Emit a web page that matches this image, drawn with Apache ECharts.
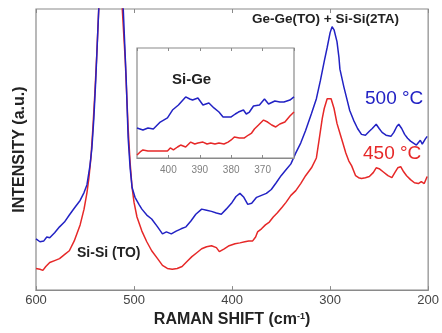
<!DOCTYPE html>
<html>
<head>
<meta charset="utf-8">
<script src="https://cdn.jsdelivr.net/npm/echarts@6/dist/echarts.min.js"></script>
<style>html,body{margin:0;padding:0;background:#fff}#c{width:442px;height:333px}</style>
</head>
<body>
<div id="c"></div>
<script>
// Main spectrum, 500 °C (blue)
const blueShift = [600,596,592,589,586,581,576,571,566,561,555,551,548,545,543,541,539,536,534,529,525,521,516,511,508,506,504,502,499,495,492,487,482,476,471,467,462,457,452,447,442,437,431,426,421,416,411,406,400,396,392,388,384,380,375,370,365,360,355,350,345,340,335,330,325,319,314,310,306,303,300,298,296,293,291,290,286,283,280,276,272,268,264,260,257,253,250,247,243,238,235,232,230,227,224,221,218,215,212,210,208,206,203,201];
const blueInt = [18.2,17.2,17.5,18.9,18.6,20.4,22.5,24.2,26.7,29.1,31.9,34.7,37.5,44.2,50.5,61.1,75.1,100,120,150,160,150,125,100,75,54,43.5,36.5,33,30.5,28.8,26.7,25.3,22.5,20,20.7,20,21,21.8,22.5,24.6,27,28.8,28.4,28,27.4,27,28.8,31.2,33.3,34.4,33,30.5,30.9,33,33.7,34.4,35.8,38.2,40.7,42.8,44.9,48.8,52.3,56.8,62.8,68.1,74.4,81.4,86.3,91.6,93.7,92.6,88.4,82.8,78.6,72.3,68.1,63.9,60.4,57.5,55.4,55.1,56.5,57.5,59,57.5,56.1,55.1,54.7,56.1,58.2,59,57.5,55.4,54,53,52.3,51.6,51.9,53.3,51.9,53.7,54.7];
// Main spectrum, 450 °C (red)
const redShift = [600,596,593,590,586,581,576,571,566,561,555,551,548,546,544,542,540,538,536,534,529,525,521,516,512,509,506,504,502,500,497,492,487,482,476,471,466,461,456,451,446,441,436,431,426,421,416,413,408,403,397,392,387,383,379,376,374,370,366,362,358,354,349,345,340,335,330,325,319,314,311,308,306,303,301,299,296,293,290,287,284,281,278,274,271,268,264,260,256,253,250,246,241,237,234,231,228,225,222,218,214,210,207,204,201];
const redInt = [7.7,7.4,7.0,8.4,9.8,10.5,11.2,12.6,14,17.5,23.2,28.8,34.7,40,47,57.5,69.8,83.9,100,120,150,160,150,125,100,82,57.5,45.3,36.5,31.2,26,21,17.2,14,11.2,8.8,7.7,7.4,7.7,8.4,10.2,11.9,13.3,14.7,15.4,15.8,15.1,13.7,14.7,15.8,16.5,16.8,17.2,17.5,17.5,18.9,20.7,21.8,23.2,24.2,26,27.4,29.5,31.2,33.7,35.4,37.9,40.7,43.5,47,54,61.1,64.6,68.1,68.8,68.1,64.6,59.3,55.8,52.3,48.8,46,44.2,40.7,40,39.7,40,40.4,41.8,43.5,43.2,42.1,40.7,40,41.8,43.5,43.9,42.1,40.7,39.3,38.2,37.9,38.6,37.9,40.4];
// Inset (Si-Ge region)
const insetBlueShift = [410,408.1,406.5,404.8,402.6,400.3,398.7,396.8,394.5,393.2,392.3,390.6,389,387.1,385.5,383.9,382.6,381.3,380,378.7,377.7,376.1,375.2,374.2,372.9,371,369.4,368.1,366.1,364.5,363.2,361.3,360];
const insetBlueInt = [27.3,25.5,27.3,26.4,32.7,36.4,43.6,48.2,55.5,53.6,52.7,54.5,48.2,50,45.5,41.8,37.3,37.3,37.3,40,41.8,43.6,40,41.8,47.3,48.2,53.6,49.1,51.8,50.9,50.9,52.7,55.5];
const insetRedShift = [410,409,408.1,406.5,404.8,402.6,400.3,399.4,398.4,397.1,396.1,394.5,392.9,391.6,390.6,389,387.7,386.5,385.2,383.9,382.3,381,380,379,377.4,375.8,374.5,373.5,372.6,371.3,369.7,368.4,367.1,365.8,364.5,362.9,361.3,360];
const insetRedInt = [2.7,5.5,7.3,6.4,6.4,6.4,6.4,9.1,7.3,10,11.8,10,14.5,12.7,13.6,14.5,12.7,13.6,12.7,13.6,12.7,14.5,16.4,19.1,18.2,18.2,20.9,22.7,26.4,30,34.5,32.7,30,28.2,30.9,32.7,38.2,41.8];
const mainTicks = [600,500,400,300,200];
const insetTicks = [400,390,380,370];

const BLUE = '#2222c4', RED = '#e62828', FRAME = '#8a8a8a';
const FONT = '"Liberation Sans", Arial, sans-serif';
const zip = (a, b) => a.map((v, i) => [v, b[i]]);

const chart = echarts.init(document.getElementById('c'), null, {renderer: 'canvas'});
chart.setOption({
  animation: false,
  backgroundColor: '#fff',
  grid: [
    {left: 36, right: 11, top: 9, bottom: 39, show: true, borderColor: FRAME, borderWidth: 1.2, backgroundColor: 'transparent'},
    {left: 137, top: 48, width: 157, height: 110, show: true, borderColor: FRAME, borderWidth: 1.2, backgroundColor: '#fff', z: 10}
  ],
  xAxis: [
    {gridIndex: 0, type: 'value', inverse: true, min: 200, max: 600, interval: 100, position: 'bottom',
     axisLine: {show: true, lineStyle: {color: FRAME, width: 1.2}},
     axisTick: {show: true, inside: true, length: 4, lineStyle: {color: FRAME}},
     axisLabel: {color: '#444', fontSize: 13, fontFamily: FONT, margin: 4,
       formatter: v => mainTicks.includes(v) ? String(v) : ''},
     splitLine: {show: false},
     name: 'RAMAN SHIFT (cm{sup|-1})', nameLocation: 'middle', nameGap: 21,
     nameTextStyle: {color: '#222', fontSize: 16, fontWeight: 'bold', fontFamily: FONT,
       rich: {sup: {fontSize: 9, fontWeight: 'bold', color: '#222', fontFamily: FONT, verticalAlign: 'top', padding: [0,0,7,0]}}}},
    {gridIndex: 0, type: 'value', inverse: true, min: 200, max: 600, interval: 100, position: 'top',
     axisLine: {show: false}, axisTick: {show: true, inside: true, length: 4, lineStyle: {color: FRAME}},
     axisLabel: {show: false}, splitLine: {show: false}},
    {gridIndex: 1, type: 'value', inverse: true, min: 360, max: 410, interval: 10, position: 'bottom',
     axisLine: {show: true, lineStyle: {color: FRAME}},
     axisTick: {show: true, inside: true, length: 3, lineStyle: {color: FRAME}},
     axisLabel: {color: '#808080', fontSize: 10, fontFamily: FONT, margin: 7, showMinLabel: false, showMaxLabel: false,
       formatter: v => insetTicks.includes(v) ? String(v) : ''},
     splitLine: {show: false}, z: 11},
    {gridIndex: 1, type: 'value', inverse: true, min: 360, max: 410, interval: 10, position: 'top',
     axisLine: {show: false}, axisTick: {show: true, inside: true, length: 3, lineStyle: {color: FRAME}},
     axisLabel: {show: false}, splitLine: {show: false}, z: 11}
  ],
  yAxis: [
    {gridIndex: 0, type: 'value', min: 0, max: 100,
     axisLine: {show: false}, axisTick: {show: false}, axisLabel: {show: false}, splitLine: {show: false},
     name: 'INTENSITY (a.u.)', nameLocation: 'middle', nameGap: 8, nameRotate: 90,
     nameTextStyle: {color: '#222', fontSize: 16, fontWeight: 'bold', fontFamily: FONT}},
    {gridIndex: 1, type: 'value', min: 0, max: 100,
     axisLine: {show: false}, axisTick: {show: false}, axisLabel: {show: false}, splitLine: {show: false}}
  ],
  series: [
    {type: 'line', name: '500 °C', xAxisIndex: 0, yAxisIndex: 0, data: zip(blueShift, blueInt), showSymbol: false, clip: true, lineStyle: {color: BLUE, width: 1.5}, z: 3},
    {type: 'line', name: '450 °C', xAxisIndex: 0, yAxisIndex: 0, data: zip(redShift, redInt), showSymbol: false, clip: true, lineStyle: {color: RED, width: 1.5}, z: 2},
    {type: 'line', xAxisIndex: 2, yAxisIndex: 1, data: zip(insetBlueShift, insetBlueInt), showSymbol: false, clip: true, lineStyle: {color: BLUE, width: 1.5}, z: 12},
    {type: 'line', xAxisIndex: 2, yAxisIndex: 1, data: zip(insetRedShift, insetRedInt), showSymbol: false, clip: true, lineStyle: {color: RED, width: 1.5}, z: 12}
  ],
  graphic: [
    {type: 'text', left: 252, top: 12, z: 20, style: {text: 'Ge-Ge(TO) + Si-Si(2TA)', fill: '#222', font: 'bold 13.5px ' + FONT}},
    {type: 'text', left: 172, top: 72, z: 20, style: {text: 'Si-Ge', fill: '#222', font: 'bold 15px ' + FONT}},
    {type: 'text', left: 77, top: 246, z: 20, style: {text: 'Si-Si (TO)', fill: '#222', font: 'bold 14px ' + FONT}},
    {type: 'text', left: 365, top: 89, z: 20, style: {text: '500 °C', fill: BLUE, font: '19px ' + FONT}},
    {type: 'text', left: 363, top: 144, z: 20, style: {text: '450 °C', fill: RED, font: '19px ' + FONT}}
  ]
});
</script>
</body>
</html>
